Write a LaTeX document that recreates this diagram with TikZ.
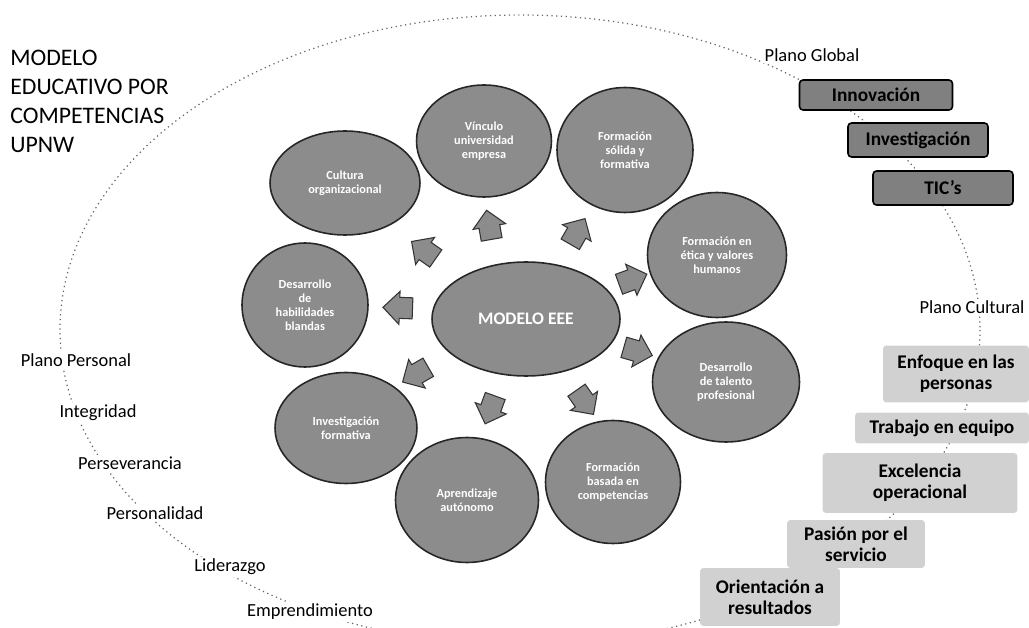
\documentclass[tikz,border=0pt]{standalone}
\usepackage{fontspec}
\setmainfont{Carlito}
\usepackage{xcolor}
\usepackage{tikz}
\usetikzlibrary{positioning,arrows.meta,shapes.geometric,shapes.arrows}

\begin{document}
\begin{tikzpicture}[x=0.02cm, y=-0.02cm,
    eje/.style={ellipse, draw=black!85, line width=0.9pt, fill=black!45, inner sep=1pt,
        align=center, text=white, font=\fontsize{7}{8}\selectfont\bfseries},
    flecha/.style={single arrow, draw=black!80, line width=0.6pt, fill=black!45,
        inner xsep=0.18cm, inner ysep=0.2cm, single arrow head extend=0.12cm},
    plano/.style={fill=white, inner sep=1pt, font=\fontsize{10.5}{12}\selectfont},
    global/.style={draw=black, line width=0.9pt, fill=black!50, rounded corners=2pt,
        font=\fontsize{11}{12}\selectfont\bfseries},
    cultural/.style={fill=black!18, rounded corners=2pt, align=center,
        font=\fontsize{11}{12}\selectfont\bfseries}]
\useasboundingbox (0,0) rectangle (1029,628);

% outer dotted ring
\begin{scope}
\clip (0,0) rectangle (1029,628);
\draw[black!60, dotted, line width=0.7pt] (520,330) ellipse [x radius=460, y radius=315];
\end{scope}

\node[anchor=west, align=left, inner sep=0pt, font=\fontsize{13.5}{16.5}\selectfont] (titulo) at (10,101)
    {MODELO\\EDUCATIVO POR\\COMPETENCIAS\\UPNW};

% centre and the nine axes
\node[eje, minimum width=3.76cm, minimum height=2.28cm, font=\fontsize{10}{12}\selectfont\bfseries] (modelo) at (526,319) {MODELO EEE};

\node[eje, minimum width=3.00cm, minimum height=2.08cm] (eje_1) at (345,183) {Cultura\\organizacional};
\node[eje, minimum width=2.70cm, minimum height=2.24cm] (eje_2) at (484,141) {Vínculo\\universidad\\empresa};
\node[eje, minimum width=2.72cm, minimum height=2.50cm] (eje_3) at (625,150) {Formación\\sólida y\\formativa};
\node[eje, minimum width=2.78cm, minimum height=2.50cm] (eje_4) at (717,255) {Formación en\\ética y valores\\humanos};
\node[eje, minimum width=2.94cm, minimum height=2.40cm] (eje_5) at (726,382) {Desarrollo\\de talento\\profesional};
\node[eje, minimum width=2.70cm, minimum height=2.46cm] (eje_6) at (613,482) {Formación\\basada en\\competencias};
\node[eje, minimum width=2.86cm, minimum height=2.50cm] (eje_7) at (467,500) {Aprendizaje\\autónomo};
\node[eje, minimum width=2.84cm, minimum height=2.22cm] (eje_8) at (346,428) {Investigación\\formativa};
\node[eje, minimum width=2.52cm, minimum height=2.48cm] (eje_9) at (305,305) {Desarrollo\\de\\habilidades\\blandas};

% arrows round the centre
\node[flecha, rotate=100] (flecha_2) at (490,230) {};
\node[flecha, rotate=60] (flecha_3) at (575,236) {};
\node[flecha, rotate=20] (flecha_4) at (628,281) {};
\node[flecha, rotate=-16] (flecha_5) at (633,350) {};
\node[flecha, rotate=-55] (flecha_6) at (582,398) {};
\node[flecha, rotate=-110] (flecha_7) at (492,405) {};
\node[flecha, rotate=-150] (flecha_8) at (420,372) {};
\node[flecha, rotate=178] (flecha_9) at (403,308) {};
\node[flecha, rotate=145] (flecha_1) at (428,253) {};

% plano global
\node[plano] (plano_global) at (812,55) {Plano Global};
\node[global, minimum width=3.06cm, minimum height=0.60cm] (innovacion) at (876,95) {Innovación};
\node[global, minimum width=2.80cm, minimum height=0.68cm] (investigacion) at (918,140) {Investigación};
\node[global, minimum width=2.80cm, minimum height=0.68cm] (tics) at (943,188) {TIC's};

% plano cultural
\node[plano] (plano_cultural) at (972,307) {Plano Cultural};
\node[cultural, minimum width=2.92cm, minimum height=1.14cm] (enfoque) at (956,374) {Enfoque en las\\personas};
\node[cultural, minimum width=3.48cm, minimum height=0.62cm] (trabajo) at (942,428) {Trabajo en equipo};
\node[cultural, minimum width=3.90cm, minimum height=1.20cm] (excelencia) at (920,483) {Excelencia\\operacional};
\node[cultural, minimum width=2.76cm, minimum height=0.96cm] (pasion) at (856,544) {Pasión por el\\servicio};
\node[cultural, minimum width=2.80cm, minimum height=1.16cm] (orientacion) at (770,597) {Orientación a\\resultados};

% plano personal
\node[plano] (plano_personal) at (76,360) {Plano Personal};
\node[plano] (integridad) at (98,413) {Integridad};
\node[plano] (perseverancia) at (130,463) {Perseverancia};
\node[plano] (personalidad) at (155,513) {Personalidad};
\node[plano] (liderazgo) at (230,567) {Liderazgo};
\node[plano] (emprendimiento) at (310,612) {Emprendimiento};

\end{tikzpicture}
\end{document}
